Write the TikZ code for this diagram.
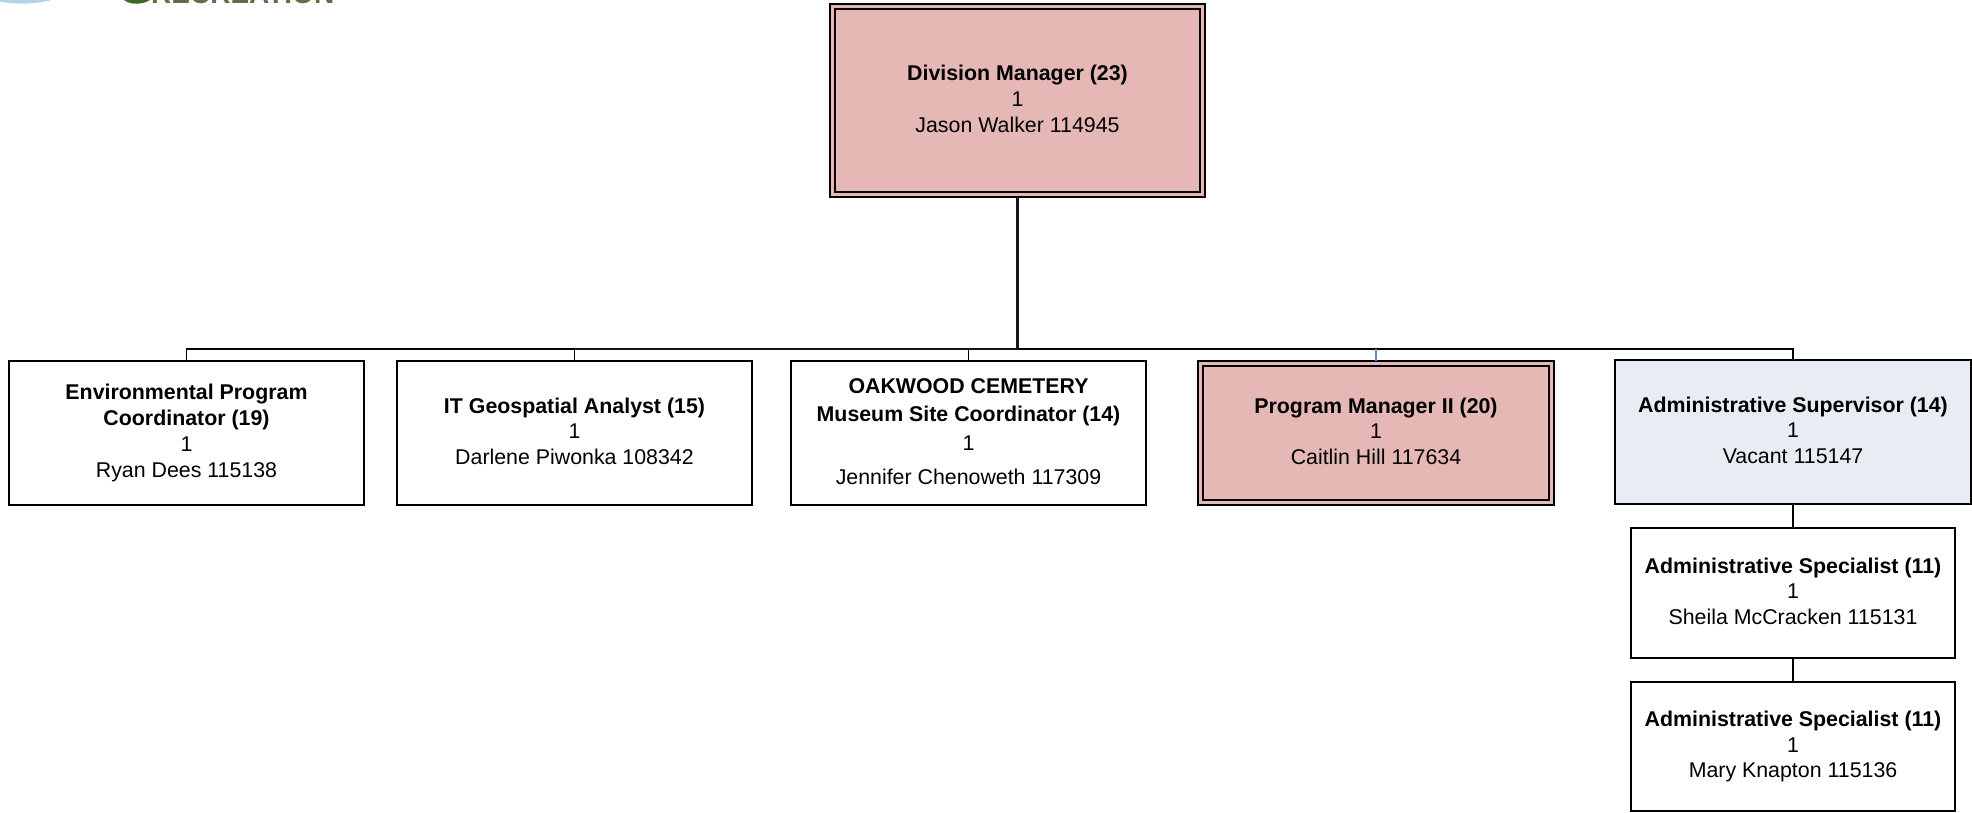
\documentclass[tikz,border=0pt]{standalone}
\usepackage{fontspec}
\setmainfont{Liberation Sans}
\definecolor{pinkfill}{HTML}{E6B8B5}
\definecolor{bluefill}{HTML}{E8EDF4}
\definecolor{trunkblue}{HTML}{5B8BD0}
\definecolor{linkdark}{HTML}{101820}
\definecolor{leaf}{HTML}{3F6A26}
\definecolor{logoblue}{HTML}{B5D3E6}
\definecolor{logotext}{HTML}{5F7048}
\newcommand{\pos}[7]{\node[#1,minimum width=#4-#3,minimum height=#6-#5] (#2) at ({(#3+#4)/2},{-(#5+#6)/2}) {#7};}
\tikzset{
  x=1pt,y=1pt,
  box/.style={draw=black,line width=1.5pt,fill=white,inner sep=0pt,align=center,outer sep=0pt,font=\fontsize{21.35}{25.8}\selectfont},
  pinkbox/.style={box,fill=pinkfill},
  bluebox/.style={box,fill=bluefill},
  nudged/.style={text depth=3.8pt},
  link/.style={draw=black,line width=1.5pt},
  heavy/.style={draw=linkdark,line width=2.5pt},
  frame/.style={draw=black,line width=1.8pt}
}
\begin{document}
\begin{tikzpicture}
\useasboundingbox (0,0) rectangle (1972,-812);
% logo remnants, cut by the page edge
\begin{scope}
\clip (0,0) rectangle (340,-8);
\fill[logoblue] (0,-1.5) .. controls (15,-4.5) and (35,-4.5) .. (52,0) -- (0,0) -- cycle;
\fill[leaf] (124,0) .. controls (130,-5) and (142,-5) .. (150,0) -- cycle;
\node[anchor=base west,inner sep=0pt,text=logotext,font=\bfseries\fontsize{28}{28}\selectfont] (logo) at (151,-3) {RECREATION};
\end{scope}
% boxes
\pos{box}{env}{9}{364}{361}{505}{\textbf{Environmental Program}\\\textbf{Coordinator (19)}\\1\\Ryan Dees 115138}
\pos{box,nudged}{geo}{397}{752}{361}{505}{\textbf{IT Geospatial Analyst (15)}\\1\\Darlene Piwonka 108342}
\pos{box,nudged}{oak}{791}{1146}{361}{505}{\textbf{OAKWOOD CEMETERY}\\[3pt]\textbf{Museum Site Coordinator (14)}\\[2.5pt]1\\[8pt]Jennifer Chenoweth 117309}
\pos{bluebox,nudged}{sup}{1615}{1971}{360}{504}{\textbf{Administrative Supervisor (14)}\\1\\Vacant 115147}
\pos{box,nudged}{spa}{1631}{1955}{528}{658}{\textbf{Administrative Specialist (11)}\\1\\Sheila McCracken 115131}
\pos{box}{spb}{1631}{1955}{682}{811}{\textbf{Administrative Specialist (11)}\\1\\Mary Knapton 115136}
% double framed boxes
\pos{pinkbox,nudged}{top}{830}{1205}{4}{197}{\textbf{Division Manager (23)}\\1\\Jason Walker 114945}
\draw[frame] ([shift={(5,-5)}]top.north west) rectangle ([shift={(-5,5)}]top.south east);
\pos{pinkbox,nudged}{pm}{1198}{1554}{361}{505}{\textbf{Program Manager II (20)}\\1\\Caitlin Hill 117634}
\draw[frame] ([shift={(5,-5)}]pm.north west) rectangle ([shift={(-5,5)}]pm.south east);
% connector anchors
\coordinate (busL) at (env.north |- 0,-349);
\coordinate (busR) at (sup.north |- 0,-349);
\coordinate (busM) at (top.south |- 0,-349);
% connectors
\draw[link] (env.north) -- (busL) -- (busR) -- (sup.north);
\draw[heavy] (geo.north |- busM) -- (busM);
\draw[heavy] (top.south) -- (busM);
\draw[link] (geo.north) -- (geo.north |- busM);
\draw[link] (oak.north) -- (oak.north |- busM);
\draw[draw=trunkblue,line width=1.5pt] (pm.north) -- (pm.north |- busM);
\draw[link] (sup.south) -- (spa.north);
\draw[link] (spa.south) -- (spb.north);
\end{tikzpicture}
\end{document}
